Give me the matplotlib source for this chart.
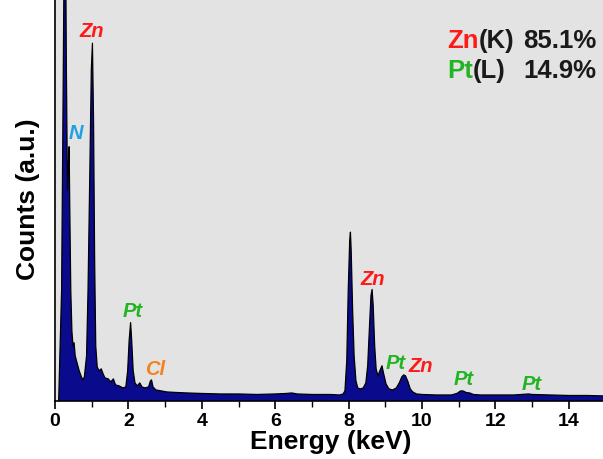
import matplotlib
matplotlib.use("Agg")
import matplotlib.pyplot as plt
import numpy as np

plt.rcParams['font.family'] = ['Liberation Sans', 'DejaVu Sans']

# Spectrum (energy in keV, counts in arbitrary units)
energy = [0.10, 0.12, 0.18, 0.22, 0.26, 0.28, 0.31, 0.34, 0.37, 0.385, 0.40, 0.43, 0.46,
          0.49, 0.52, 0.55, 0.60, 0.66, 0.72, 0.76, 0.80, 0.86, 0.90, 0.95, 0.99, 1.02,
          1.05, 1.08, 1.11, 1.15, 1.20, 1.26, 1.30, 1.36, 1.45, 1.52, 1.59, 1.65, 1.75,
          1.85, 1.93, 1.98, 2.02, 2.06, 2.09, 2.13, 2.18, 2.24, 2.31, 2.37, 2.45, 2.55,
          2.60, 2.63, 2.67, 2.75, 2.90, 3.05, 3.30, 3.60, 4.00, 4.50, 5.00, 5.50, 6.00,
          6.30, 6.45, 6.60, 7.00, 7.50, 7.75, 7.85, 7.90, 7.95, 7.99, 8.03, 8.05, 8.07,
          8.11, 8.15, 8.20, 8.25, 8.32, 8.40, 8.47, 8.52, 8.57, 8.61, 8.64, 8.67, 8.71,
          8.75, 8.80, 8.85, 8.91, 8.95, 9.02, 9.10, 9.20, 9.30, 9.38, 9.45, 9.50, 9.55,
          9.62, 9.68, 9.75, 9.85, 10.0, 10.4, 10.8, 10.95, 11.05, 11.12, 11.20, 11.30,
          11.40, 11.60, 12.0, 12.5, 12.9, 13.0, 13.5, 14.0, 14.5, 15.0]
counts = [0, 28, 110, 300, 500, 520, 330, 210, 240, 253, 200, 110, 70,
          55, 58, 45, 38, 30, 24, 21, 24, 45, 110, 230, 330, 356,
          280, 140, 55, 34, 30, 32, 28, 23, 22, 19, 22, 16, 15,
          13, 14, 30, 60, 78, 60, 30, 18, 15, 18, 14, 13, 14,
          20, 21, 14, 11, 10, 9, 8.5, 8, 7.5, 7, 7, 6.5, 7,
          7.5, 8, 7, 6.5, 6.5, 6, 7, 10, 40, 110, 160, 168, 150,
          90, 45, 20, 13, 12, 13, 18, 35, 75, 105, 111, 95, 55,
          32, 25, 30, 35, 28, 17, 12, 11, 13, 18, 24, 26, 25,
          19, 12, 9, 7, 6.5, 6, 6, 7.5, 10, 10, 8.5, 8,
          6.5, 6, 6, 6, 7, 6.5, 6, 5.5, 5.5, 5]

# Peak labels: text, colour, label position (keV, counts)
peak_text = ['Zn', 'N', 'Pt', 'Cl', 'Zn', 'Pt', 'Zn', 'Pt', 'Pt']
peak_color = ['#ff1a1a', '#1ea0e6', '#22b422', '#f5821f', '#ff1a1a', '#22b422', '#ff1a1a', '#22b422', '#22b422']
peak_x = [1.01, 0.57, 2.13, 2.72, 8.66, 9.29, 9.97, 11.14, 13.0]
peak_y = [368, 266, 89, 31, 121, 37, 34, 21, 16]

# Composition
elem = ['Zn', 'Pt']
shell = ['(K)', '(L)']
percent = ['85.1%', '14.9%']
elem_color = ['#ff1a1a', '#22b422']

fig = plt.figure(figsize=(6.03, 4.59), dpi=100)
ax = fig.add_axes([55/603, 58/459, 550.5/603, 403/459])
ax.set_facecolor('#e3e3e3')

e = np.array(energy)
c = np.array(counts)
ax.fill_between(e, 0, c, color='#0a0a8c', lw=0)
ax.plot(e, c, color='black', lw=0.9)

ax.set_xlim(0, 15)
ax.set_ylim(0, 401)
ax.set_xticks(np.arange(0, 15, 2))
ax.set_xticks(np.arange(1, 15, 2), minor=True)
ax.set_yticks([])
ax.tick_params(axis='x', which='major', length=6, width=1.2, direction='out', labelsize=14, pad=3)
ax.tick_params(axis='x', which='minor', length=4, width=1.0, direction='out')
for lab in ax.get_xticklabels():
    lab.set_fontweight('bold')
for s in ['top', 'right']:
    ax.spines[s].set_visible(False)
ax.spines['left'].set_linewidth(1.2)
ax.spines['bottom'].set_linewidth(1.2)

ax.set_xlabel('Energy (keV)', fontsize=19, fontweight='bold', labelpad=0)
ax.set_ylabel('Counts (a.u.)', fontsize=19, fontweight='bold', labelpad=11)

for t, col, x, y in zip(peak_text, peak_color, peak_x, peak_y):
    ax.text(x, y, t, color=col, fontsize=14.5, fontweight='bold', fontstyle='italic',
            ha='center', va='center')

ys = [0.893, 0.818]
for el, sh, pc, col, y in zip(elem, shell, percent, elem_color, ys):
    t1 = ax.text(0.712, y, el, color=col, fontsize=18.5, fontweight='bold',
                 transform=ax.transAxes, ha='left', va='center')
    ax.annotate(sh, xy=(1, 0), xycoords=t1, ha='left', va='bottom',
                fontsize=18.5, fontweight='bold', color='#1a1a1a')
    ax.text(0.983, y, pc, color='#1a1a1a', fontsize=18.5, fontweight='bold',
            transform=ax.transAxes, ha='right', va='center')

fig.savefig('out.png', dpi=100)
